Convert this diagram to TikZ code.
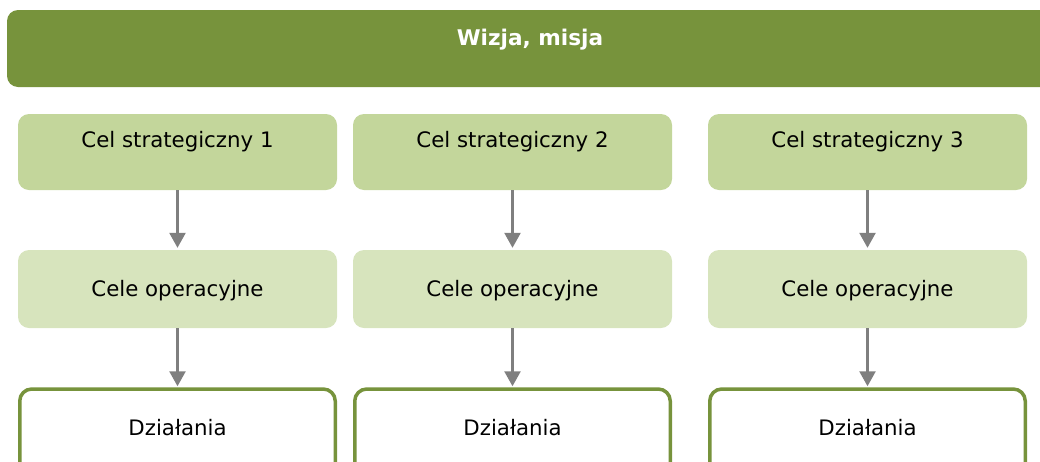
\documentclass[tikz,border=0pt]{standalone}
\usepackage{fontspec}
\setmainfont{DejaVu Sans}
\definecolor{dgreen}{HTML}{77933C}
\definecolor{lgreen}{HTML}{C3D69B}
\definecolor{pgreen}{HTML}{D7E4BD}
\definecolor{agray}{HTML}{7F7F7F}
\usetikzlibrary{arrows.meta}
\begin{document}
\begin{tikzpicture}[x=1pt,y=-1pt,
  txt/.style={font=\fontsize{21.3}{25}\selectfont, text=black, inner sep=0pt},
  strat/.style={fill=lgreen, rounded corners=11pt, minimum width=319pt, minimum height=76pt, inner sep=0pt},
  oper/.style={fill=pgreen, rounded corners=11pt, minimum width=319pt, minimum height=78pt, inner sep=0pt},
  act/.style={draw=dgreen, line width=3.5pt, fill=white, rounded corners=12pt, minimum width=315.5pt, minimum height=86pt, inner sep=0pt},
  arr/.style={draw=agray, line width=2.5pt, -{Triangle[width=16pt,length=15pt]}}]
\useasboundingbox (0,0) rectangle (1040,461);
\clip (0,0) rectangle (1040,461);
\fill[dgreen, rounded corners=11pt] (7,10) rectangle (1060,87);
\node[txt, font=\fontsize{21.6}{25}\selectfont\bfseries, text=white] (vis) at (530,40) {Wizja, misja};
\foreach \i/\x in {1/177.5, 2/512.5, 3/867.5}{
  \node[strat] (s\i) at (\x,152) {};
  \node[txt] (st\i) at (\x,142) {Cel strategiczny \i};
  \node[oper] (o\i) at (\x,289) {};
  \node[txt] (ot\i) at (\x,291) {Cele operacyjne};
  \node[act] (a\i) at (\x,432) {};
  \node[txt] (at\i) at (\x,428) {Działania};
  \draw[arr, shorten >=2pt] (s\i) -- (o\i);
  \draw[arr, shorten >=1pt] (o\i) -- (a\i);
}
\end{tikzpicture}
\end{document}
